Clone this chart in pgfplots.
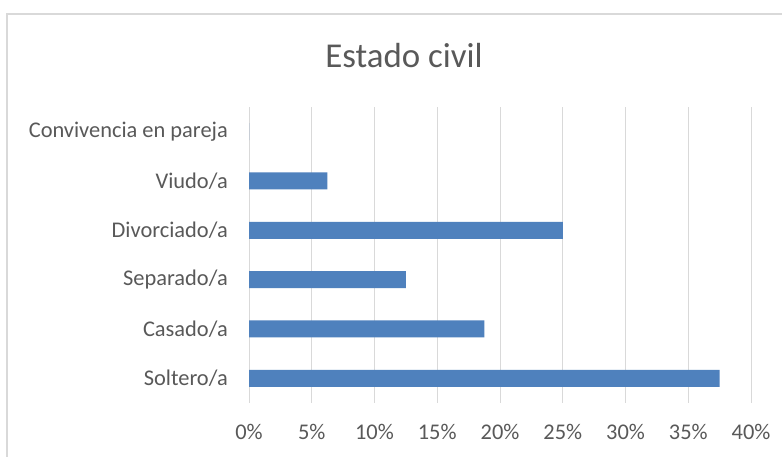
\documentclass[border=0pt]{standalone}
\usepackage{pgfplots}
\pgfplotsset{compat=1.18}
\usepackage{fontspec}
\setmainfont{Carlito}
\definecolor{barblue}{HTML}{4F81BD}
\definecolor{gridgray}{HTML}{D9D9D9}
\definecolor{txt}{HTML}{595959}
\begin{document}
\begin{tikzpicture}[x=1bp,y=1bp]
\useasboundingbox (0,0) rectangle (782,457);
\fill[white] (0,0) rectangle (782,457);
\draw[color=gridgray, line width=1.5bp] (7,443) rectangle (900,-50);
\node[text=txt, font=\fontsize{35}{40}\selectfont, anchor=base, inner sep=0pt] at (404,389) {Estado civil};
\begin{axis}[
  at={(249bp,54bp)}, anchor=south west,
  scale only axis, width=502bp, height=296bp,
  xbar, bar width=17bp,
  xmin=0, xmax=40, ymin=-0.5, ymax=5.5,
  xtick={0,5,...,40},
  ytick={0,1,2,3,4,5},
  yticklabels={Soltero/a,Casado/a,Separado/a,Divorciado/a,Viudo/a,Convivencia en pareja},
  xmajorgrids, grid style={color=gridgray, line width=1bp},
  axis line style={draw=none},
  major tick length=0pt,
  /pgf/number format/assume math mode=true,
  xticklabel={\pgfmathprintnumber{\tick}\%},
  tick label style={text=txt, font=\fontsize{22.5}{26}\selectfont},
  x tick label style={anchor=center, yshift=-29bp, inner sep=0pt},
  y tick label style={anchor=east, inner sep=0pt, xshift=-21bp},
  clip=false,
]
\addplot[fill=barblue, draw=none] coordinates {
  (37.5,0) (18.75,1) (12.5,2) (25,3) (6.25,4) (0,5)
};
\end{axis}
\end{tikzpicture}
\end{document}
